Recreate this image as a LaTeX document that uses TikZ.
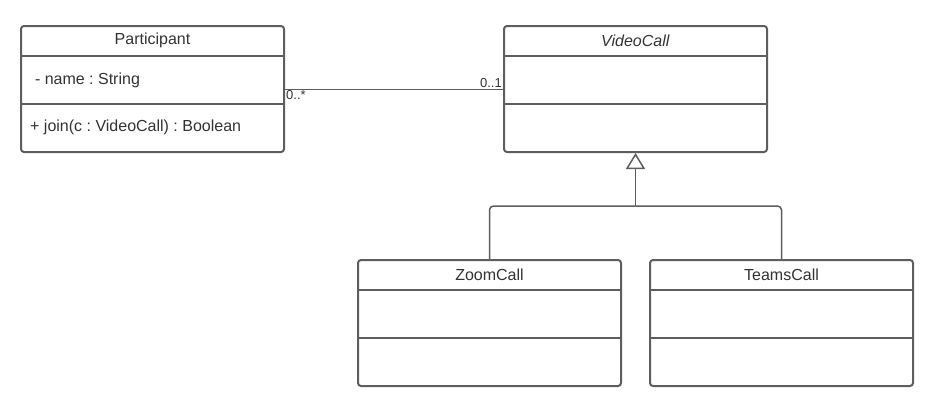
\documentclass[tikz,border=0pt]{standalone}
\usepackage{fontspec}
\setmainfont{Liberation Sans}
\usetikzlibrary{arrows.meta,positioning}
\definecolor{umlgray}{HTML}{5E5E5E}
\definecolor{umltext}{HTML}{333333}
\frenchspacing

\begin{document}
\begin{tikzpicture}[x=1pt, y=-1pt,
    classbox/.style={draw=umlgray, line width=2pt, rounded corners=3pt,
        minimum width=263pt, minimum height=126pt, inner sep=0pt},
    titlebox/.style={minimum width=263pt, minimum height=31pt, inner sep=0pt,
        text=umltext, font=\fontsize{16}{19}\selectfont},
    compbox/.style={minimum width=263pt, minimum height=47pt, inner sep=0pt},
    divider/.style={draw=umlgray, line width=2pt},
    member/.style={anchor=west, inner sep=0pt, text=umltext,
        font=\fontsize{16}{19}\selectfont},
    mult/.style={inner sep=1pt, text=umltext, font=\fontsize{13}{15}\selectfont},
    assoc/.style={draw=umlgray, line width=1pt},
    inherit/.style={draw=umlgray, line width=1.5pt, rounded corners=4pt}]

    \useasboundingbox (0,0) rectangle (936,410);

    % class boxes
    \foreach \n/\x/\y/\t in {part/152.5/89/Participant, video/635.5/89/\textit{VideoCall},
                             zoom/489.5/323/ZoomCall, teams/781.5/323/TeamsCall} {
        \node[classbox] (\n) at (\x,\y) {};
        \node[titlebox, below=0pt of \n.north] (\n-t) {\t};
        \node[compbox, below=0pt of \n-t] (\n-a) {};
        \draw[divider] (\n.west |- \n-t.south) -- (\n.east |- \n-t.south);
        \draw[divider] (\n.west |- \n-a.south) -- (\n.east |- \n-a.south);
    }

    % members
    \node[member] (name) at ([xshift=14pt]part-a.west) {- name : String};
    \node[member] (join) at ([xshift=10pt, yshift=-24pt]part.west |- part-a.south)
        {+ join(c : VideoCall) : Boolean};

    % association
    \draw[assoc] (part) -- (video);
    \node[mult, anchor=north west] (many) at (part.east) {0..*};
    \node[mult, anchor=south east] (one) at (video.west) {0..1};

    % generalization
    \coordinate (fork) at ([yshift=-53pt]video.south);
    \draw[inherit] (zoom.north) |- (fork);
    \draw[inherit] (teams.north) |- (fork);
    \draw[inherit, -{Triangle[open, length=16pt, width=19pt, fill=white]}]
        (fork) -- (video.south);
\end{tikzpicture}
\end{document}
